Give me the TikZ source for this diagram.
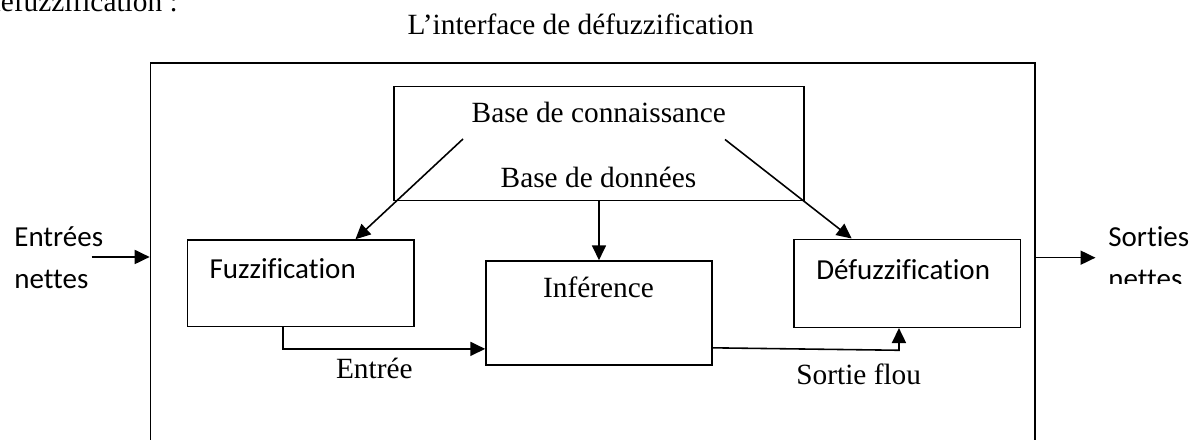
\documentclass[tikz,border=0pt]{standalone}
\usepackage{fontspec}
\setmainfont{Liberation Serif}
\newfontfamily\calibri[Ligatures=NoCommon]{Carlito}
\usetikzlibrary{arrows.meta,calc}

\begin{document}
\begin{tikzpicture}[scale=0.2,
    box/.style={draw, line width=0.9pt},
    lbl/.style={font=\fontsize{16.7}{20}\selectfont},
    side/.style={font=\calibri\fontsize{16.5}{19.8}\selectfont},
    flow/.style={line width=0.9pt, -{Triangle[length=8.5pt,width=8pt]}}]
    \tikzstyle{every node}+=[inner sep=0pt]
    \useasboundingbox (0,0) rectangle (119.9,-44);
    % texte au-dessus
    \node [lbl, anchor=base east] (frag) at (17.8,-1.17) {défuzzification :};
    \node [lbl, anchor=base] (titre) at (58.07,-3.5) {L’interface de défuzzification};
    % blocs
    \node [box, minimum width=17.69cm, minimum height=8.34cm] (iface) at (59.27,-27.15) {};
    \node [box, minimum width=8.2cm, minimum height=2.28cm] (kb) at (59.9,-14.37) {};
    \node [box, minimum width=4.53cm, minimum height=1.73cm] (fuzz) at (30.07,-28.33) {};
    \node [box, minimum width=4.52cm, minimum height=2.08cm] (inf) at (59.9,-31.3) {};
    \node [box, minimum width=4.53cm, minimum height=1.76cm] (dfz) at (90.73,-28.33) {};
    \node [lbl, anchor=base] (kbtxt) at (59.88,-12.3) {Base de connaissance};
    \node [lbl, anchor=base] (bdtxt) at (59.85,-18.8) {Base de données};
    \node [side, anchor=base west] (fuzztxt) at (20.93,-27.83) {Fuzzification};
    \node [lbl, anchor=base] (inftxt) at (59.85,-29.8) {Inférence};
    \node [side, anchor=base west] (dfztxt) at (81.6,-27.93) {Défuzzification};
    \node [lbl, anchor=base west] (entree) at (33.57,-37.83) {Entrée};
    \node [lbl, anchor=base west] (sortie) at (79.6,-38.5) {Sortie flou};
    \node [side, anchor=base west] (inA) at (1.4,-24.67) {Entrées};
    \node [side, anchor=base west] (inB) at (1.4,-28.83) {nettes};
    \node [side, anchor=base west] (outA) at (110.8,-24.67) {Sorties};
    \begin{scope}
    \clip (105,-28.33) rectangle (119.9,-20);
    \node [side, anchor=base west] (outB) at (110.8,-28.83) {nettes};
    \end{scope}
    % liaisons
    \coordinate (inS) at (9.17,-25.7);
    \coordinate (outE) at (109.55,-25.77);
    \coordinate (kbL) at (46.3,-13.9);
    \coordinate (kbR) at (72.5,-13.95);
    \coordinate (dfzB) at ($(dfz.south west)!0.4636!(dfz.south east)$);
    \coordinate (sfK) at ($(dfzB)+(0,-2.22)$);
    \draw [flow] (inS) -- (inS -| iface.west);
    \draw [flow] (iface.east |- outE) -- (outE);
    \draw [flow] (kbL) -- ($(fuzz.north west)!0.74!(fuzz.north east)$);
    \draw [flow] (kbR) -- ($(dfz.north west)!0.256!(dfz.north east)$);
    \draw [flow] (kb.south) -- (inf.north);
    \draw [flow] ($(fuzz.south west)!0.4235!(fuzz.south east)$) |- ($(inf.north west)!0.84!(inf.south west)$);
    \draw [flow] ($(inf.north east)!0.83!(inf.south east)$) -- (sfK) -- (dfzB);
\end{tikzpicture}
\end{document}
